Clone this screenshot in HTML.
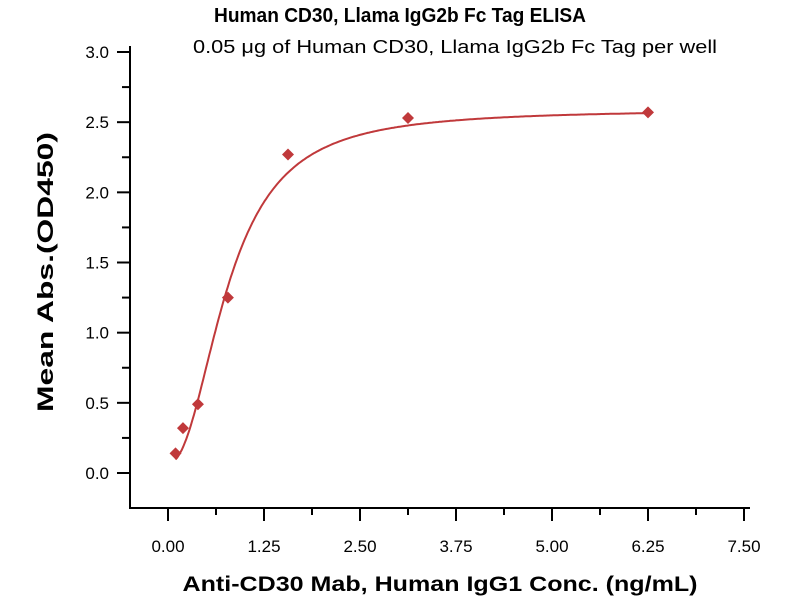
<!DOCTYPE html>
<html><head><meta charset="utf-8"><style>
body{margin:0;background:#fff;width:800px;height:600px;overflow:hidden}
text{font-family:"Liberation Sans",sans-serif;fill:#000}
</style></head><body>
<svg id="s" width="800" height="600" xmlns="http://www.w3.org/2000/svg">
<text x="400" y="22" text-anchor="middle" font-size="20" font-weight="bold" textLength="372" lengthAdjust="spacingAndGlyphs">Human CD30, Llama IgG2b Fc Tag ELISA</text>
<text x="455" y="53" text-anchor="middle" font-size="18" textLength="524" lengthAdjust="spacingAndGlyphs">0.05 μg of Human CD30, Llama IgG2b Fc Tag per well</text>
<g stroke="#000" stroke-width="2" fill="none">
<line x1="130" y1="46" x2="130" y2="509"/>
<line x1="129" y1="508" x2="750" y2="508"/>
</g>
<g id="ticks" stroke="#000" stroke-width="2"></g>
<g id="labels" font-size="17"></g>
<text x="440" y="591" text-anchor="middle" font-size="21" font-weight="bold" textLength="515" lengthAdjust="spacingAndGlyphs">Anti-CD30 Mab, Human IgG1 Conc. (ng/mL)</text>
<text transform="translate(53,272) rotate(-90)" text-anchor="middle" font-size="22" font-weight="bold" textLength="280" lengthAdjust="spacingAndGlyphs">Mean Abs.(OD450)</text>
<path id="curve" fill="none" stroke="#c0393b" stroke-width="2"/>
<g id="pts" fill="#c0393b"></g>
</svg>
<script>
var X=function(x){return 168+x*76.8},Y=function(y){return 473-y*140.33};
var t='',l='';
for(var i=0;i<=12;i++){var v=i*0.25,y=Y(v);t+='<line x1="'+(i%2?122:117)+'" y1="'+y+'" x2="130" y2="'+y+'"/>';if(i%2==0)l+='<text x="109" y="'+(y+6)+'" text-anchor="end">'+v.toFixed(1)+'</text>';}
for(var i=0;i<=12;i++){var v=i*0.625,x=X(v);t+='<line x1="'+x+'" y1="508" x2="'+x+'" y2="'+(i%2?515:521)+'"/>';if(i%2==0)l+='<text x="'+x+'" y="552" text-anchor="middle">'+v.toFixed(2)+'</text>';}
document.getElementById('ticks').innerHTML=t;document.getElementById('labels').innerHTML=l;
function f(x){return 0.07+2.52/(1+Math.pow(0.78/x,2.2));}
var d='';for(var x=0.098;x<=6.26;x+=0.02){d+=(d?'L':'M')+X(x).toFixed(1)+','+Y(f(x)).toFixed(1);}
document.getElementById('curve').setAttribute('d',d);
var P=[[0.098,0.14],[0.195,0.32],[0.39,0.49],[0.78,1.25],[1.5625,2.27],[3.125,2.53],[6.25,2.57]],p='';
P.forEach(function(q){var x=X(q[0]),y=Y(q[1]);p+='<polygon points="'+x+','+(y-6)+' '+(x+6)+','+y+' '+x+','+(y+6)+' '+(x-6)+','+y+'"/>';});
document.getElementById('pts').innerHTML=p;
</script>
</body></html>
